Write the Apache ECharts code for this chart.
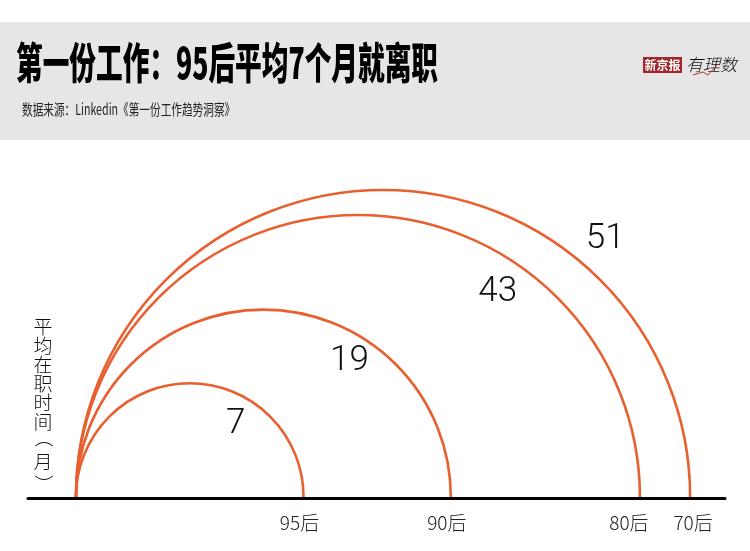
<!DOCTYPE html>
<html>
<head>
<meta charset="utf-8">
<script src="https://cdn.jsdelivr.net/npm/echarts@6/dist/echarts.min.js"></script>
<style>
html,body{margin:0;padding:0;background:#fff;}
#chart{width:750px;height:551px;}
</style>
</head>
<body>
<div id="chart"></div>
<script>
// ---- data ----
var categories = ['95后', '90后', '80后', '70后'];
var months = [7, 19, 43, 51];
var titleText = '第一份工作：95后平均7个月就离职';
var sourceText = '数据来源：Linkedin《第一份工作趋势洞察》';
var yName = ['平', '均', '在', '职', '时', '间', '（', '月', '）'];

// ---- label layout (angle in degrees, radial offset from arc in px) ----
var valueLabelLayout = [[58.5, -26], [58, -25], [56, -32], [49.5, 35]];

var arcColor = '#e8602f';

var chart = echarts.init(document.getElementById('chart'), null, {renderer: 'canvas'});

// diameter of each semicircle is proportional to sqrt(months) (area-proportional)
var seriesData = months.map(function (m, i) { return [Math.sqrt(m), m, i]; });

var graphics = [
  {type: 'rect', left: 0, top: 22, shape: {width: 750, height: 118}, style: {fill: '#e6e6e6'}, z: 0},
  {type: 'text', x: 16, y: 62.5, scaleX: 0.62, originX: 0, originY: 0,
    style: {text: titleText, fill: '#000', font: '900 43px "Noto Sans CJK SC"', verticalAlign: 'middle'}, z: 1},
  {type: 'text', x: 22, y: 109, scaleX: 0.71, originX: 0, originY: 0,
    style: {text: sourceText, fill: '#222', font: '400 15px "Noto Sans CJK SC"', verticalAlign: 'middle'}, z: 1},
  {type: 'rect', x: 643, y: 57, shape: {width: 39, height: 16}, style: {fill: '#a3262c'}, z: 1},
  {type: 'text', x: 662.5, y: 65, style: {text: '新京报', fill: '#fff', font: '700 12px "Noto Sans CJK SC"', align: 'center', verticalAlign: 'middle'}, z: 2},
  {type: 'text', x: 686, y: 65, style: {text: '有理数', fill: '#111', font: 'italic 300 17px "Noto Sans CJK SC"', verticalAlign: 'middle'}, z: 2},
  {type: 'polyline', shape: {points: [[693, 75], [703, 72], [708, 75], [718, 64]]}, style: {stroke: '#c0302a', lineWidth: 1, fill: null}, z: 2}
];
// vertical axis title, one character per line; brackets rotated to vertical form
var yPos = [327, 346, 365, 384, 403, 422, 438, 462, 484];
yName.forEach(function (ch, i) {
  var isBracket = (ch === '（' || ch === '）');
  graphics.push({
    type: 'text', x: 43, y: yPos[i], rotation: isBracket ? -Math.PI / 2 : 0,
    style: {text: ch, fill: '#111', font: '300 19px "Noto Sans CJK SC"', align: 'center', verticalAlign: 'middle'}, z: 1
  });
});

var option = {
  animation: false,
  backgroundColor: '#ffffff',
  grid: {left: 28, right: 25, top: 150, bottom: 53},
  xAxis: {
    type: 'value', min: -0.558, max: 7.547,
    axisLine: {show: true, lineStyle: {color: '#000', width: 3}},
    axisTick: {show: false}, axisLabel: {show: false}, splitLine: {show: false}
  },
  yAxis: {type: 'value', min: 0, max: 1, show: false},
  graphic: graphics,
  series: [{
    type: 'custom',
    clip: false,
    data: seriesData,
    encode: {x: 0},
    renderItem: function (params, api) {
      var d = api.value(0);
      var m = api.value(1);
      var idx = api.value(2);
      var p0 = api.coord([0, 0]);
      var p1 = api.coord([d, 0]);
      var r = (p1[0] - p0[0]) / 2;
      var cx = p0[0] + r;
      var cy = p0[1] - 1;
      var lay = valueLabelLayout[idx];
      var ang = lay[0] * Math.PI / 180;
      var dist = r + lay[1];
      var lx = cx + dist * Math.cos(ang);
      var ly = cy - dist * Math.sin(ang) + 2;
      // category label: nudge left if the next arc end is close
      var shift = -4;
      if (idx < months.length - 1) {
        var pn = api.coord([Math.sqrt(months[idx + 1]), 0]);
        if (pn[0] - p1[0] < 60) shift = -11;
      } else {
        shift = 3;
      }
      return {
        type: 'group',
        children: [
          {type: 'arc', shape: {cx: cx, cy: cy, r: r, startAngle: Math.PI, endAngle: 2 * Math.PI, clockwise: true},
            style: {stroke: arcColor, lineWidth: 2.6, fill: null}},
          {type: 'text', x: lx, y: ly,
            style: {text: String(m), fill: '#111', font: '300 35px Roboto', align: 'center', verticalAlign: 'middle'}},
          {type: 'text', x: p1[0] + shift, y: 523,
            style: {text: categories[idx], fill: '#222', font: '300 19px "Noto Sans CJK SC"', align: 'center', verticalAlign: 'middle'}}
        ]
      };
    }
  }]
};
chart.setOption(option);
</script>
</body>
</html>
